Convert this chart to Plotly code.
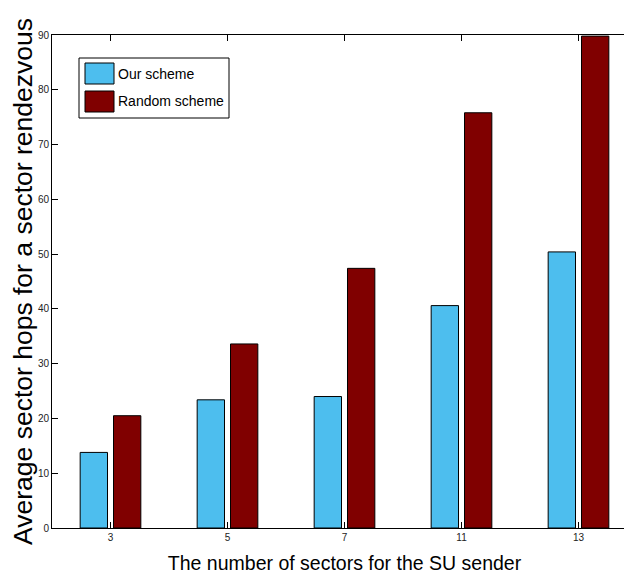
import plotly.graph_objects as go

categories = ["3", "5", "7", "11", "13"]
series_names = ["Our scheme", "Random scheme"]
our_scheme = [13.8, 23.4, 24.0, 40.6, 50.4]
random_scheme = [20.5, 33.6, 47.4, 75.8, 89.8]
colors = ["#4DBEEE", "#800000"]
y_ticks = [0, 10, 20, 30, 40, 50, 60, 70, 80, 90]

# page offset of the plot div (default body margin)
OFF = 8
W, H = 632, 584
PLOT_L, PLOT_T, PLOT_R, PLOT_B = 52, 35, 637, 528
ML = PLOT_L - OFF
MT = PLOT_T - OFF
MR = OFF + W - PLOT_R
MB = OFF + H - PLOT_B
PW, PH = PLOT_R - PLOT_L, PLOT_B - PLOT_T

def px_x(p):
    return (p - PLOT_L) / PW

def px_y(p):
    return (PLOT_B - p) / PH

sans = "Liberation Sans, Arial, sans-serif"

fig = go.Figure()
for name, vals, col in zip(series_names, [our_scheme, random_scheme], colors):
    fig.add_trace(go.Bar(
        x=categories, y=vals, name=name,
        marker=dict(color=col, line=dict(color="black", width=1)),
        showlegend=False,
    ))

# manual MATLAB-style legend
shapes = [dict(type="rect", xref="paper", yref="paper",
               x0=px_x(79), x1=px_x(229), y0=px_y(118), y1=px_y(58),
               line=dict(color="black", width=1), fillcolor="white", layer="above")]
annotations = []
patch_rows = [(63, 84), (91, 112)]
for (top, bot), name, col in zip(patch_rows, series_names, colors):
    shapes.append(dict(type="rect", xref="paper", yref="paper",
                       x0=px_x(85), x1=px_x(114), y0=px_y(bot), y1=px_y(top),
                       line=dict(color="black", width=1), fillcolor=col, layer="above"))
    annotations.append(dict(xref="paper", yref="paper", x=px_x(116), y=px_y((top + bot) / 2),
                            text=name, showarrow=False, xanchor="left", yanchor="middle",
                            font=dict(family=sans, size=14, color="black")))

fig.update_layout(
    width=W, height=H,
    margin=dict(l=ML, r=MR, t=MT, b=MB, pad=0, autoexpand=False),
    paper_bgcolor="white", plot_bgcolor="white",
    barmode="group", bargap=0.43, bargroupgap=0.18,
    shapes=shapes, annotations=annotations,
    showlegend=False,
)
fig.update_xaxes(
    type="category", range=[-0.5, 4.5], automargin=False,
    showline=True, linecolor="black", linewidth=1, mirror="ticks",
    ticks="inside", ticklen=6, tickcolor="black", tickwidth=1,
    tickfont=dict(family=sans, size=10, color="#222"),
    showgrid=False, zeroline=False,
    title=dict(text="The number of sectors for the SU sender",
               font=dict(family=sans, size=19.5, color="black"), standoff=14),
)
fig.update_yaxes(
    range=[0, 90], tickvals=y_ticks, automargin=False,
    showline=True, linecolor="black", linewidth=1, mirror="ticks",
    ticks="inside", ticklen=6, tickcolor="black", tickwidth=1,
    tickfont=dict(family=sans, size=10, color="#222"),
    showgrid=False, zeroline=False,
    title=dict(text="Average sector hops for a sector rendezvous",
               font=dict(family=sans, size=26.5, color="black"),
               standoff=5),
)

fig.write_html("out.html")
